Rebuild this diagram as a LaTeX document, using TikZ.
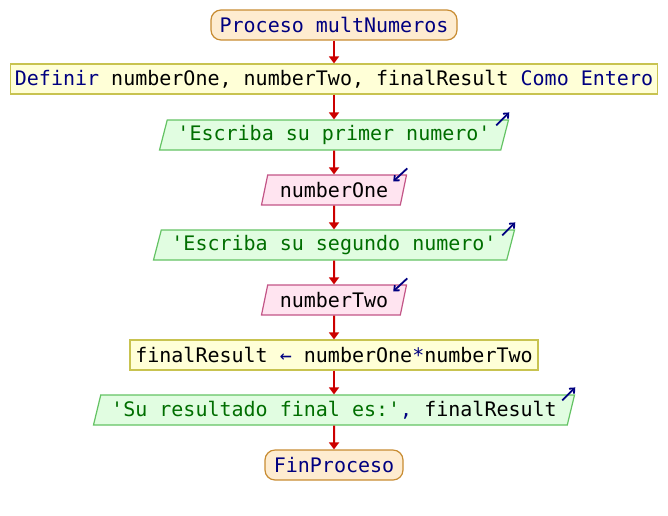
\documentclass[tikz,border=0pt]{standalone}
\usepackage{fontspec}
\setmonofont{DejaVu Sans Mono}
\usetikzlibrary{arrows.meta,shapes.geometric,calc}
% syntax colours
\definecolor{kw}{RGB}{0,0,128}
\definecolor{str}{RGB}{0,110,0}
\definecolor{flow}{RGB}{204,0,0}
% block colours
\definecolor{termfill}{RGB}{254,236,208}
\definecolor{termborder}{RGB}{200,140,50}
\definecolor{deffill}{RGB}{255,255,215}
\definecolor{defborder}{RGB}{200,195,80}
\definecolor{outfill}{RGB}{225,253,225}
\definecolor{outborder}{RGB}{100,195,100}
\definecolor{infill}{RGB}{255,228,240}
\definecolor{inborder}{RGB}{195,85,135}
\begin{document}
\begin{tikzpicture}[x=1pt,y=-1pt,
  every node/.style={font=\ttfamily\fontsize{20}{24}\selectfont, inner sep=0pt,
    minimum height=30pt, line width=1.2pt},
  terminal/.style={draw=termborder, fill=termfill, rounded corners=10pt},
  procbox/.style={draw=defborder, fill=deffill},
  iobase/.style={trapezium, trapezium left angle=68.2, trapezium right angle=111.8,
    trapezium stretches body},
  outbox/.style={iobase, draw=outborder, fill=outfill},
  inbox/.style={iobase, draw=inborder, fill=infill},
  flowarrow/.style={draw=flow, line width=2pt, -{Triangle[length=7pt,width=10pt]}},
  ioglyph/.style={draw=kw, line width=1.8pt, -{Straight Barb[length=4pt,width=7pt]}}
]
\useasboundingbox (0,0) rectangle (668,515);

% blocks
\node[terminal, minimum width=246pt] (start) at (334,25) {\color{kw}Proceso multNumeros};
\node[procbox, minimum width=647pt] (def) at (334,79)
  {{\color{kw}Definir} numberOne, numberTwo, finalResult {\color{kw}Como Entero}};
\node[outbox, minimum width=349pt] (o1) at (334,135) {\color{str}'Escriba su primer numero'};
\node[inbox, minimum width=145pt] (i1) at (334,190) {numberOne};
\node[outbox, minimum width=361pt] (o2) at (334,245) {\color{str}'Escriba su segundo numero'};
\node[inbox, minimum width=145pt] (i2) at (334,300) {numberTwo};
\node[procbox, minimum width=408pt] (calc) at (334,355)
  {finalResult {\color{kw}←} numberOne{\color{kw}*}numberTwo};
\node[outbox, minimum width=481pt] (o3) at (334,410)
  {{\color{str}'Su resultado final es:'}{\color{kw},} finalResult};
\node[terminal, minimum width=138pt] (end) at (334,465) {\color{kw}FinProceso};

% flow
\draw[flowarrow] (start) -- (def);
\draw[flowarrow] (def) -- (o1);
\draw[flowarrow] (o1) -- (i1);
\draw[flowarrow] (i1) -- (o2);
\draw[flowarrow] (o2) -- (i2);
\draw[flowarrow] (i2) -- (calc);
\draw[flowarrow] (calc) -- (o3);
\draw[flowarrow] (o3) -- (end);

% output / input markers
\foreach \n in {o1,o2,o3}
  \draw[ioglyph] ($(\n.top right corner)+(-13,6)$) -- ($(\n.top right corner)+(0,-7)$);
\foreach \n in {i1,i2}
  \draw[ioglyph] ($(\n.top right corner)+(0,-6)$) -- ($(\n.top right corner)+(-14,7)$);
\end{tikzpicture}
\end{document}
